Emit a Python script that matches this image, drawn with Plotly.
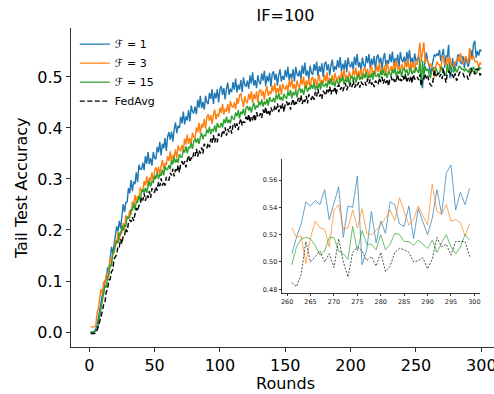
import plotly.graph_objects as go

rounds = list(range(1, 301))

acc_f1 = [
    0.000, 0.000, 0.000, 0.002, 0.006, 0.014, 0.030, 0.046, 0.060, 0.072,
    0.076, 0.101, 0.104, 0.127, 0.118, 0.143, 0.167, 0.154, 0.174, 0.193,
    0.207, 0.197, 0.218, 0.203, 0.232, 0.251, 0.235, 0.254, 0.255, 0.282,
    0.272, 0.298, 0.276, 0.295, 0.290, 0.313, 0.294, 0.328, 0.319, 0.319,
    0.332, 0.317, 0.345, 0.330, 0.353, 0.329, 0.341, 0.326, 0.353, 0.341,
    0.339, 0.363, 0.352, 0.373, 0.346, 0.369, 0.360, 0.380, 0.355, 0.383,
    0.392, 0.377, 0.393, 0.373, 0.397, 0.411, 0.390, 0.404, 0.400, 0.422,
    0.409, 0.432, 0.407, 0.423, 0.415, 0.435, 0.413, 0.444, 0.432, 0.429,
    0.442, 0.427, 0.455, 0.440, 0.463, 0.439, 0.451, 0.436, 0.463, 0.451,
    0.447, 0.469, 0.457, 0.476, 0.447, 0.469, 0.458, 0.476, 0.450, 0.476,
    0.482, 0.465, 0.478, 0.456, 0.477, 0.489, 0.465, 0.477, 0.470, 0.490,
    0.475, 0.497, 0.470, 0.485, 0.475, 0.494, 0.470, 0.499, 0.485, 0.481,
    0.493, 0.477, 0.503, 0.487, 0.509, 0.483, 0.494, 0.478, 0.503, 0.490,
    0.486, 0.507, 0.493, 0.512, 0.482, 0.502, 0.491, 0.508, 0.481, 0.506,
    0.511, 0.494, 0.506, 0.483, 0.504, 0.515, 0.491, 0.502, 0.494, 0.514,
    0.499, 0.520, 0.493, 0.507, 0.497, 0.515, 0.491, 0.520, 0.506, 0.501,
    0.513, 0.496, 0.523, 0.506, 0.528, 0.502, 0.513, 0.496, 0.522, 0.508,
    0.504, 0.525, 0.512, 0.530, 0.501, 0.521, 0.510, 0.527, 0.500, 0.525,
    0.530, 0.513, 0.525, 0.503, 0.523, 0.534, 0.510, 0.521, 0.514, 0.533,
    0.518, 0.539, 0.511, 0.526, 0.515, 0.533, 0.509, 0.538, 0.524, 0.519,
    0.530, 0.514, 0.540, 0.523, 0.545, 0.519, 0.529, 0.512, 0.538, 0.524,
    0.519, 0.541, 0.527, 0.545, 0.516, 0.536, 0.524, 0.541, 0.514, 0.539,
    0.544, 0.526, 0.538, 0.516, 0.536, 0.547, 0.522, 0.533, 0.526, 0.545,
    0.529, 0.550, 0.522, 0.537, 0.526, 0.544, 0.519, 0.549, 0.534, 0.529,
    0.540, 0.523, 0.549, 0.532, 0.553, 0.528, 0.538, 0.521, 0.546, 0.532,
    0.534, 0.542, 0.525, 0.500, 0.478, 0.515, 0.538, 0.548, 0.530, 0.524,
    0.506, 0.518, 0.528, 0.544, 0.541, 0.545, 0.542, 0.553, 0.531, 0.544,
    0.555, 0.518, 0.541, 0.540, 0.563, 0.498, 0.509, 0.537, 0.514, 0.530,
    0.521, 0.544, 0.542, 0.528, 0.526, 0.541, 0.517, 0.539, 0.530, 0.520,
    0.532, 0.553, 0.535, 0.565, 0.571, 0.538, 0.551, 0.542, 0.554, 0.550,
]

acc_f3 = [
    0.010, 0.010, 0.010, 0.010, 0.013, 0.038, 0.046, 0.064, 0.084, 0.074,
    0.099, 0.094, 0.113, 0.103, 0.128, 0.146, 0.135, 0.153, 0.155, 0.180,
    0.173, 0.196, 0.179, 0.196, 0.194, 0.214, 0.200, 0.229, 0.223, 0.225,
    0.239, 0.230, 0.256, 0.248, 0.269, 0.254, 0.267, 0.258, 0.283, 0.277,
    0.276, 0.296, 0.287, 0.305, 0.284, 0.303, 0.296, 0.313, 0.293, 0.316,
    0.323, 0.311, 0.324, 0.307, 0.326, 0.337, 0.320, 0.331, 0.327, 0.345,
    0.335, 0.354, 0.334, 0.347, 0.342, 0.358, 0.341, 0.366, 0.357, 0.355,
    0.367, 0.355, 0.379, 0.368, 0.387, 0.369, 0.380, 0.368, 0.391, 0.382,
    0.381, 0.401, 0.392, 0.410, 0.389, 0.408, 0.401, 0.418, 0.398, 0.421,
    0.427, 0.414, 0.425, 0.408, 0.425, 0.436, 0.417, 0.428, 0.422, 0.440,
    0.429, 0.447, 0.426, 0.438, 0.432, 0.447, 0.429, 0.453, 0.443, 0.440,
    0.450, 0.437, 0.459, 0.447, 0.464, 0.468, 0.454, 0.441, 0.462, 0.452,
    0.449, 0.467, 0.456, 0.472, 0.449, 0.466, 0.457, 0.472, 0.450, 0.471,
    0.476, 0.463, 0.473, 0.455, 0.472, 0.482, 0.463, 0.472, 0.466, 0.483,
    0.471, 0.488, 0.466, 0.478, 0.470, 0.485, 0.465, 0.487, 0.478, 0.476,
    0.485, 0.471, 0.493, 0.480, 0.497, 0.477, 0.486, 0.472, 0.493, 0.483,
    0.479, 0.497, 0.485, 0.501, 0.477, 0.493, 0.484, 0.498, 0.476, 0.496,
    0.500, 0.487, 0.497, 0.479, 0.495, 0.504, 0.485, 0.494, 0.488, 0.504,
    0.491, 0.509, 0.486, 0.498, 0.490, 0.504, 0.485, 0.508, 0.497, 0.493,
    0.503, 0.489, 0.511, 0.498, 0.515, 0.495, 0.504, 0.490, 0.511, 0.500,
    0.497, 0.515, 0.503, 0.519, 0.495, 0.512, 0.502, 0.517, 0.494, 0.515,
    0.519, 0.506, 0.516, 0.498, 0.514, 0.523, 0.504, 0.513, 0.507, 0.523,
    0.510, 0.528, 0.505, 0.517, 0.509, 0.523, 0.504, 0.527, 0.516, 0.512,
    0.521, 0.508, 0.529, 0.516, 0.533, 0.514, 0.521, 0.508, 0.526, 0.517,
    0.514, 0.531, 0.519, 0.535, 0.511, 0.527, 0.518, 0.531, 0.510, 0.529,
    0.524, 0.545, 0.567, 0.530, 0.550, 0.568, 0.528, 0.535, 0.532, 0.522,
    0.525, 0.518, 0.519, 0.499, 0.518, 0.530, 0.525, 0.524, 0.511, 0.538,
    0.542, 0.524, 0.525, 0.538, 0.525, 0.539, 0.521, 0.520, 0.523, 0.527,
    0.532, 0.538, 0.530, 0.547, 0.537, 0.527, 0.531, 0.541, 0.534, 0.527,
    0.557, 0.537, 0.535, 0.542, 0.530, 0.531, 0.529, 0.519, 0.528, 0.524,
]

acc_f15 = [
    0.000, 0.000, 0.000, 0.000, 0.002, 0.005, 0.016, 0.030, 0.046, 0.060,
    0.069, 0.091, 0.087, 0.106, 0.111, 0.132, 0.129, 0.156, 0.158, 0.167,
    0.179, 0.174, 0.195, 0.190, 0.208, 0.199, 0.210, 0.206, 0.226, 0.223,
    0.225, 0.241, 0.238, 0.252, 0.240, 0.255, 0.254, 0.267, 0.257, 0.274,
    0.280, 0.273, 0.283, 0.273, 0.287, 0.296, 0.285, 0.295, 0.293, 0.307,
    0.300, 0.313, 0.300, 0.310, 0.306, 0.319, 0.307, 0.325, 0.318, 0.319,
    0.327, 0.319, 0.337, 0.329, 0.343, 0.332, 0.339, 0.332, 0.349, 0.343,
    0.343, 0.357, 0.352, 0.364, 0.350, 0.363, 0.360, 0.371, 0.359, 0.374,
    0.379, 0.371, 0.380, 0.369, 0.382, 0.390, 0.378, 0.387, 0.384, 0.397,
    0.390, 0.402, 0.388, 0.398, 0.393, 0.405, 0.392, 0.410, 0.402, 0.402,
    0.410, 0.401, 0.417, 0.409, 0.422, 0.410, 0.416, 0.409, 0.424, 0.418,
    0.417, 0.430, 0.423, 0.435, 0.419, 0.432, 0.427, 0.438, 0.424, 0.439,
    0.443, 0.434, 0.442, 0.430, 0.442, 0.449, 0.436, 0.444, 0.440, 0.452,
    0.444, 0.456, 0.442, 0.452, 0.446, 0.457, 0.444, 0.461, 0.453, 0.452,
    0.459, 0.450, 0.465, 0.456, 0.469, 0.455, 0.461, 0.453, 0.467, 0.460,
    0.458, 0.471, 0.463, 0.474, 0.458, 0.470, 0.464, 0.474, 0.460, 0.474,
    0.478, 0.469, 0.477, 0.465, 0.477, 0.484, 0.471, 0.479, 0.476, 0.485,
    0.477, 0.489, 0.474, 0.483, 0.477, 0.488, 0.475, 0.491, 0.483, 0.482,
    0.488, 0.479, 0.494, 0.485, 0.497, 0.484, 0.489, 0.481, 0.495, 0.488,
    0.485, 0.498, 0.491, 0.502, 0.485, 0.496, 0.490, 0.500, 0.485, 0.499,
    0.502, 0.493, 0.501, 0.489, 0.500, 0.506, 0.494, 0.501, 0.496, 0.507,
    0.498, 0.510, 0.495, 0.503, 0.498, 0.508, 0.495, 0.511, 0.502, 0.501,
    0.507, 0.497, 0.513, 0.503, 0.515, 0.502, 0.507, 0.498, 0.512, 0.505,
    0.502, 0.515, 0.507, 0.517, 0.500, 0.512, 0.506, 0.515, 0.500, 0.514,
    0.517, 0.508, 0.515, 0.502, 0.513, 0.519, 0.505, 0.512, 0.508, 0.519,
    0.512, 0.508, 0.530, 0.484, 0.532, 0.500, 0.521, 0.512, 0.516, 0.506,
    0.498, 0.511, 0.517, 0.518, 0.517, 0.512, 0.505, 0.508, 0.518, 0.518,
    0.508, 0.506, 0.502, 0.526, 0.508, 0.523, 0.513, 0.513, 0.509, 0.520,
    0.509, 0.513, 0.521, 0.520, 0.515, 0.515, 0.512, 0.516, 0.513, 0.510,
    0.516, 0.507, 0.514, 0.520, 0.511, 0.506, 0.511, 0.520, 0.516, 0.518,
]

acc_fedavg = [
    -0.003, -0.003, -0.003, -0.003, -0.001, 0.003, 0.011, 0.020, 0.030, 0.040,
    0.053, 0.057, 0.079, 0.083, 0.102, 0.103, 0.118, 0.122, 0.143, 0.148,
    0.152, 0.168, 0.167, 0.182, 0.173, 0.189, 0.189, 0.203, 0.196, 0.214,
    0.220, 0.216, 0.225, 0.218, 0.232, 0.243, 0.237, 0.248, 0.249, 0.264,
    0.258, 0.272, 0.257, 0.268, 0.263, 0.276, 0.263, 0.282, 0.275, 0.274,
    0.285, 0.277, 0.294, 0.286, 0.301, 0.287, 0.295, 0.287, 0.304, 0.298,
    0.298, 0.312, 0.307, 0.320, 0.305, 0.319, 0.314, 0.327, 0.313, 0.330,
    0.335, 0.326, 0.335, 0.323, 0.337, 0.346, 0.333, 0.342, 0.339, 0.352,
    0.345, 0.359, 0.344, 0.356, 0.350, 0.362, 0.350, 0.369, 0.362, 0.361,
    0.370, 0.362, 0.379, 0.371, 0.386, 0.372, 0.380, 0.372, 0.389, 0.383,
    0.382, 0.395, 0.389, 0.401, 0.385, 0.398, 0.392, 0.404, 0.389, 0.405,
    0.410, 0.400, 0.409, 0.396, 0.410, 0.418, 0.405, 0.413, 0.410, 0.422,
    0.414, 0.427, 0.411, 0.421, 0.415, 0.427, 0.413, 0.431, 0.423, 0.421,
    0.429, 0.420, 0.436, 0.427, 0.441, 0.426, 0.433, 0.424, 0.440, 0.433,
    0.431, 0.444, 0.436, 0.448, 0.431, 0.444, 0.436, 0.448, 0.432, 0.448,
    0.452, 0.442, 0.450, 0.436, 0.449, 0.457, 0.443, 0.451, 0.447, 0.459,
    0.451, 0.464, 0.447, 0.457, 0.451, 0.463, 0.448, 0.466, 0.458, 0.456,
    0.464, 0.455, 0.471, 0.462, 0.476, 0.462, 0.466, 0.457, 0.473, 0.467,
    0.464, 0.477, 0.470, 0.481, 0.466, 0.477, 0.472, 0.481, 0.465, 0.481,
    0.485, 0.475, 0.480, 0.472, 0.480, 0.488, 0.474, 0.481, 0.479, 0.489,
    0.480, 0.493, 0.479, 0.485, 0.481, 0.490, 0.479, 0.491, 0.486, 0.485,
    0.490, 0.483, 0.496, 0.487, 0.495, 0.485, 0.490, 0.480, 0.493, 0.488,
    0.485, 0.498, 0.490, 0.500, 0.487, 0.496, 0.488, 0.496, 0.482, 0.496,
    0.501, 0.491, 0.496, 0.488, 0.495, 0.504, 0.491, 0.495, 0.492, 0.502,
    0.493, 0.506, 0.489, 0.498, 0.491, 0.502, 0.488, 0.505, 0.496, 0.495,
    0.500, 0.494, 0.505, 0.482, 0.498, 0.496, 0.506, 0.497, 0.503, 0.490,
    0.485, 0.482, 0.491, 0.515, 0.500, 0.504, 0.508, 0.500, 0.506, 0.496,
    0.517, 0.500, 0.489, 0.507, 0.511, 0.508, 0.501, 0.504, 0.497, 0.507,
    0.493, 0.497, 0.507, 0.510, 0.509, 0.507, 0.500, 0.501, 0.503, 0.495,
    0.502, 0.518, 0.511, 0.513, 0.505, 0.515, 0.515, 0.515, 0.504, 0.506,
]

series_names = ["ℱ = 1", "ℱ = 3", "ℱ = 15", "FedAvg"]
series_values = [acc_f1, acc_f3, acc_f15, acc_fedavg]
series_colors = ["#1f77b4", "#ff7f0e", "#2ca02c", "#000000"]
series_dash = ["solid", "solid", "solid", "5px,2.5px"]

main_xticks = [0, 50, 100, 150, 200, 250, 300]
main_yticks = [0.0, 0.1, 0.2, 0.3, 0.4, 0.5]
inset_xticks = [260, 265, 270, 275, 280, 285, 290, 295, 300]
inset_yticks = [0.48, 0.50, 0.52, 0.54, 0.56]
inset_start = 261
inset_end = 299

fig = go.Figure()
for name, vals, col, dash in zip(series_names, series_values, series_colors, series_dash):
    fig.add_trace(go.Scatter(
        x=rounds, y=vals, mode="lines", name=name,
        line=dict(color=col, width=1.4, dash=dash),
        xaxis="x", yaxis="y",
    ))

for name, vals, col, dash in zip(series_names, series_values, series_colors, series_dash):
    xs = [r for r in rounds if inset_start <= r <= inset_end]
    ys = [v for r, v in zip(rounds, vals) if inset_start <= r <= inset_end]
    fig.add_trace(go.Scatter(
        x=xs, y=ys, mode="lines", showlegend=False,
        line=dict(color=col, width=0.8, dash="2px,1.5px" if dash != "solid" else "solid"),
        opacity=0.85,
        xaxis="x2", yaxis="y2",
    ))

axis_common = dict(showgrid=False, zeroline=False, showline=True, linecolor="#333333",
                   ticks="outside", tickcolor="#333333", automargin=False,
                   ticklabeloverflow="allow")

fig.update_layout(
    width=494, height=394,
    margin=dict(l=71, r=0, t=28, b=47, autoexpand=False),
    paper_bgcolor="white", plot_bgcolor="white",
    font=dict(family="DejaVu Sans", color="#000000", size=16),
    title=dict(text="IF=100", x=285.5 / 494, xref="container", xanchor="center",
               y=1 - 15 / 394, yref="container", yanchor="middle",
               font=dict(size=16)),
    xaxis=dict(range=[-13.95, 309.7], tickvals=main_xticks,
               linewidth=1.2, ticklen=4, tickwidth=1.2, tickfont=dict(size=16),
               domain=[0, 1], **axis_common),
    yaxis=dict(range=[-0.0294, 0.596], tickvals=main_yticks,
               tickformat=".1f", linewidth=1.2, ticklen=4, tickwidth=1.2, tickfont=dict(size=16),
               domain=[0, 1], **axis_common),
    xaxis2=dict(range=[258.9, 301.2], tickvals=inset_xticks,
                domain=[0.4988, 0.9669], anchor="y2", linewidth=0.8, ticklen=2.5, tickwidth=0.8,
                tickfont=dict(size=6.5, color="#222222"), **axis_common),
    yaxis2=dict(range=[0.4773, 0.5754], tickvals=inset_yticks,
                tickformat=".2f", domain=[0.1693, 0.5893], anchor="x2", linewidth=0.8,
                ticklen=2.5, tickwidth=0.8, tickfont=dict(size=6.5, color="#222222"),
                **axis_common),
    legend=dict(x=0.009, y=0.995, xanchor="left", yanchor="top", bgcolor="rgba(0,0,0,0)",
                font=dict(size=11), itemwidth=30, tracegroupgap=0),
    showlegend=True,
    annotations=[
        dict(text="Tail Test Accuracy", xref="paper", yref="paper",
             x=(22 - 71) / 423, y=(347 - 188) / 319, textangle=-90,
             xanchor="center", yanchor="middle", showarrow=False, font=dict(size=16)),
        dict(text="Rounds", xref="paper", yref="paper",
             x=(285.5 - 71) / 423, y=(347 - 383) / 319,
             xanchor="center", yanchor="middle", showarrow=False, font=dict(size=16)),
    ],
)

fig.write_html(
    "out.html",
    config={"displayModeBar": False},
    post_script="document.body.style.margin='0';document.body.style.overflow='hidden';",
)
